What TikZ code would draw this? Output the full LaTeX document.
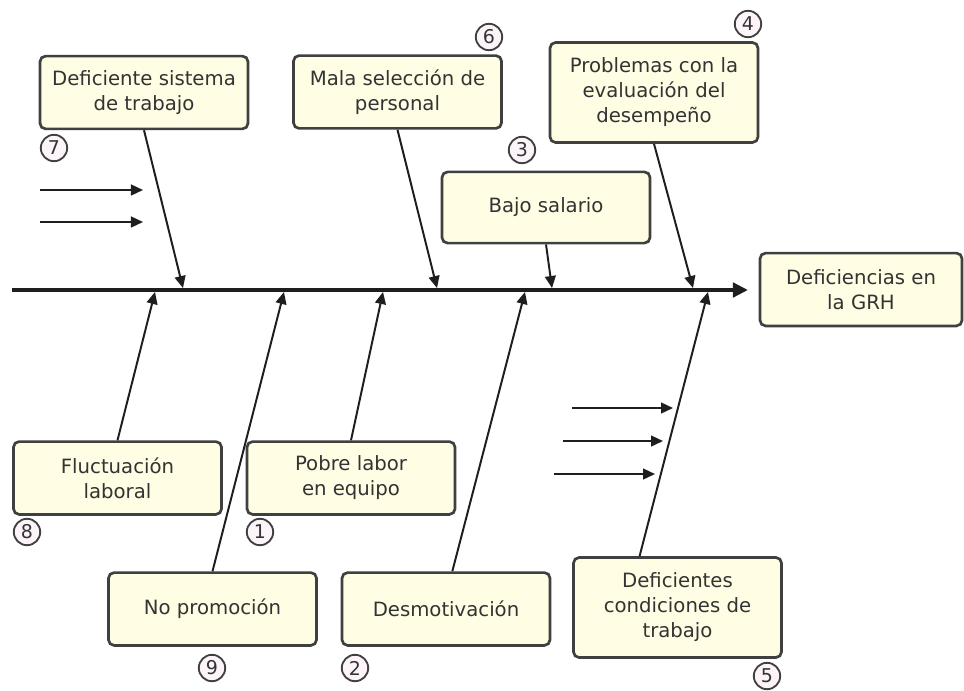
\documentclass[tikz,border=0pt]{standalone}
\usepackage{fontspec}
\setmainfont{DejaVu Sans}
\usetikzlibrary{arrows.meta,calc}
\definecolor{fondocaja}{HTML}{FFFDE3}
\definecolor{bordecaja}{HTML}{404040}
\definecolor{textocaja}{HTML}{333333}
\definecolor{linea}{HTML}{1E1E1E}
\definecolor{fondonum}{HTML}{FCF4F8}
\tikzset{
    causa/.style={draw=bordecaja, line width=1.9pt, fill=fondocaja, rounded corners=4pt,
        text=textocaja, align=center, minimum width=5.2cm, minimum height=1.82cm,
        inner sep=2pt, font=\fontsize{14}{17.8}\selectfont},
    causaalta/.style={causa, minimum height=2.5cm},
    numero/.style={circle, draw=bordecaja, line width=1.3pt, fill=fondonum, text=textocaja,
        minimum size=0.66cm, inner sep=0pt, font=\fontsize{13.5}{13.5}\selectfont},
    flecha/.style={->, line width=1.4pt, draw=linea}
}

\begin{document}
\begin{tikzpicture}[x=0.025cm, y=-0.025cm, >={Triangle[length=0.3cm,width=0.27cm]}]
    \useasboundingbox (0,0) rectangle (964,690);
    %Eje principal
    \coordinate (cola) at (12,290);
    \coordinate (punta) at (748,290);
    \draw[-{Triangle[length=0.38cm,width=0.36cm]}, line width=3pt, draw=linea] (cola) -- (punta);
    \node[causa, minimum width=5.05cm] (efecto) at (861,289.5) {Deficiencias en\\la GRH};
    %Causas de arriba
    \node[causa] (c7) at (144,92.5) {Deficiente sistema\\de trabajo};
    \node[causa] (c6) at (397.5,92) {Mala selección de\\personal};
    \node[causaalta] (c4) at (654,92.5) {Problemas con la\\evaluación del\\desempeño};
    \node[causa, minimum height=1.78cm] (c3) at (546,207.5) {Bajo salario};
    %Causas de abajo
    \node[causa] (c8) at (117.5,478) {Fluctuación\\laboral};
    \node[causa] (c1) at (351,478) {Pobre labor\\en equipo};
    \node[causa] (c9) at (212.5,609) {No promoción};
    \node[causa] (c2) at (446,609) {Desmotivación};
    \node[causaalta] (c5) at (677.5,607.5) {Deficientes\\condiciones de\\trabajo};
    %Puntos sobre el eje
    \coordinate (p7) at (183,288);
    \coordinate (p6) at (437,288);
    \coordinate (p3) at (552,288);
    \coordinate (p4) at (693,288);
    \coordinate (q8) at (155,292);
    \coordinate (q9) at (284,292);
    \coordinate (q1) at (383,292);
    \coordinate (q2) at (525,292);
    \coordinate (q5) at (708,292);
    %Espinas
    \draw[flecha] (c7.south) -- (p7);
    \draw[flecha] (c6.south) -- (p6);
    \draw[flecha] (c3.south) -- (p3);
    \draw[flecha] (c4.south) -- (p4);
    \draw[flecha] (c8.north) -- (q8);
    \draw[flecha] (c9.north) -- (q9);
    \draw[flecha] (c1.north) -- (q1);
    \draw[flecha] ($(c2.north west)!0.53!(c2.north east)$) -- (q2);
    \draw[flecha] ($(c5.north west)!0.32!(c5.north east)$) -- (q5);
    %Flechas sueltas
    \coordinate (a1) at (40,190);  \coordinate (b1) at (143,190);
    \coordinate (a2) at (40,222);  \coordinate (b2) at (143,222);
    \coordinate (a3) at (572,408); \coordinate (b3) at (673,408);
    \coordinate (a4) at (563,441); \coordinate (b4) at (663,441);
    \coordinate (a5) at (554,474); \coordinate (b5) at (655,474);
    \draw[flecha] (a1) -- (b1);
    \draw[flecha] (a2) -- (b2);
    \draw[flecha] (a3) -- (b3);
    \draw[flecha] (a4) -- (b4);
    \draw[flecha] (a5) -- (b5);
    %Numeracion
    \node[numero] (n1) at (260,532) {1};
    \node[numero] (n2) at (355,668) {2};
    \node[numero] (n3) at (522,150) {3};
    \node[numero] (n4) at (748,24) {4};
    \node[numero] (n5) at (767,676) {5};
    \node[numero] (n6) at (489,37) {6};
    \node[numero] (n7) at (54,148) {7};
    \node[numero] (n8) at (27,532) {8};
    \node[numero] (n9) at (212,668) {9};
\end{tikzpicture}
\end{document}
